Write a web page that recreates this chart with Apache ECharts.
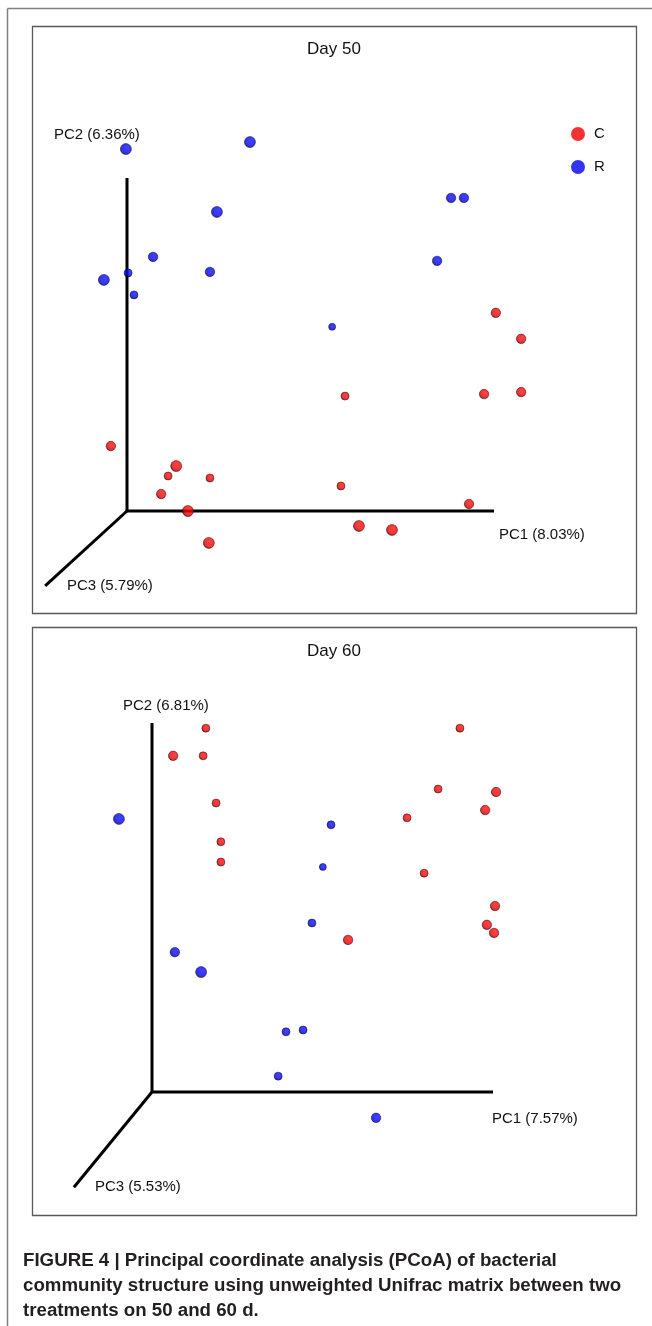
<!DOCTYPE html>
<html>
<head>
<meta charset="utf-8">
<script src="https://cdn.jsdelivr.net/npm/echarts@6/dist/echarts.min.js"></script>
<style>
html,body{margin:0;padding:0;background:#fff;}
#chart{width:652px;height:1326px;}
</style>
</head>
<body>
<div id="chart"></div>
<script>
// ---- DATA (projected PCoA coordinates: [PC1 screen, PC2 screen, depth class]) ----
const groups = ['C', 'R'];
const day50C = [[1.005,0.595,2],[1.074,0.517,2],[0.973,0.351,2],[1.074,0.357,2],[0.594,0.345,1],
  [0.583,0.075,1],[0.932,0.021,2],[0.632,-0.045,3],[0.722,-0.057,3],[-0.044,0.195,2],
  [0.134,0.135,3],[0.112,0.105,1],[0.226,0.099,1],[0.093,0.051,2],[0.166,0.000,3],[0.223,-0.096,3]];
const day50R = [[-0.003,1.087,3],[0.335,1.108,3],[0.245,0.898,3],[0.071,0.763,2],[0.003,0.715,1],
  [-0.063,0.694,3],[0.226,0.718,2],[0.019,0.649,1],[0.883,0.940,2],[0.918,0.940,2],
  [0.845,0.751,2],[0.559,0.553,0]];
const day60C = [[0.158,0.986,1],[0.062,0.911,2],[0.150,0.911,1],[0.188,0.783,1],[0.202,0.678,1],
  [0.202,0.623,1],[0.903,0.986,1],[0.839,0.821,1],[1.009,0.813,2],[0.977,0.764,2],
  [0.748,0.743,1],[0.798,0.593,1],[1.006,0.504,2],[0.982,0.453,2],[1.003,0.431,2],[0.575,0.412,2]];
const day60R = [[-0.097,0.740,3],[0.525,0.724,1],[0.501,0.610,0],[0.469,0.458,1],[0.067,0.379,2],
  [0.144,0.325,3],[0.393,0.163,1],[0.443,0.168,1],[0.370,0.043,1],[0.657,-0.070,2]];
// axis end points (PC1, PC2, PC3 directions) in the same projected units
const axes50 = [[1,0],[0,1],[-0.223,-0.225]];
const axes60 = [[1,0],[0,1],[-0.229,-0.258]];
const titles = ['Day 50', 'Day 60'];
const axisLabels50 = ['PC1 (8.03%)', 'PC2 (6.36%)', 'PC3 (5.79%)'];
const axisLabels60 = ['PC1 (7.57%)', 'PC2 (6.81%)', 'PC3 (5.53%)'];
const captionLines = [
  'FIGURE 4 | Principal coordinate analysis (PCoA) of bacterial',
  'community structure using unweighted Unifrac matrix between two',
  'treatments on 50 and 60 d.'
];

// ---- LAYOUT ----
const panels = [
  {left:32, top:26, w:605, h:588, ox:127, oy:511, ux:367, uy:333},
  {left:32, top:627, w:605, h:589, ox:152, oy:1092, ux:341, uy:369}
];
const sizeByDepth = [7, 8, 9.5, 11];
const FONT = '"Liberation Sans", Arial, Helvetica, sans-serif';

function sphere(light, mid, dark){
  return {type:'radial', x:0.6, y:0.38, r:0.62, colorStops:[
    {offset:0, color:light},{offset:0.72, color:mid},{offset:1, color:dark}]};
}
const styleC = {color: sphere('#ff1414','#f00000','#420000'), borderColor:'#2a0000', borderWidth:0.6};
const styleR = {color: sphere('#1414ff','#0000f0','#000042'), borderColor:'#00002a', borderWidth:0.6};

const grids = panels.map(p => ({left:p.left, top:p.top, width:p.w, height:p.h, show:false}));
const xAxes = panels.map((p,i) => ({gridIndex:i, type:'value', show:false,
  min:(p.left - p.ox)/p.ux, max:(p.left + p.w - p.ox)/p.ux}));
const yAxes = panels.map((p,i) => ({gridIndex:i, type:'value', show:false,
  min:(p.oy - p.top - p.h)/p.uy, max:(p.oy - p.top)/p.uy}));

function axisSeries(ends, gi){
  return ends.map(e => ({type:'line', xAxisIndex:gi, yAxisIndex:gi, data:[[0,0], e],
    symbol:'none', silent:true, z:1, animation:false,
    lineStyle:{color:'#000', width:3, cap:'butt'}}));
}
function pointSeries(name, data, gi, st){
  return {type:'scatter', name:name, xAxisIndex:gi, yAxisIndex:gi, data:data,
    symbol:'circle', symbolSize: v => sizeByDepth[v[2]], itemStyle:st, z:3, animation:false};
}

const series = [
  ...axisSeries(axes50, 0), ...axisSeries(axes60, 1),
  pointSeries('C', day50C, 0, styleC), pointSeries('R', day50R, 0, styleR),
  pointSeries('C', day60C, 1, styleC), pointSeries('R', day60R, 1, styleR)
];

function txt(text, x, y, size, align, weight, color){
  return {type:'text', silent:true, z:10, style:{text:text, x:x, y:y,
    font:(weight||'normal') + ' ' + size + 'px ' + FONT, fill:color||'#111',
    align:align||'left', verticalAlign:'middle'}};
}

const graphic = [
  {type:'line', silent:true, shape:{x1:7.5, y1:8.5, x2:652, y2:8.5}, style:{stroke:'#808080', lineWidth:1.5}},
  {type:'line', silent:true, shape:{x1:7.5, y1:8.5, x2:7.5, y2:1326}, style:{stroke:'#808080', lineWidth:1.5}},
  ...panels.map(p => ({type:'rect', silent:true, shape:{x:p.left+0.5, y:p.top+0.5, width:p.w-1, height:p.h-1},
    style:{fill:'none', stroke:'#5a5a5a', lineWidth:1.3}})),
  txt(titles[0], 334, 49, 17, 'center'),
  txt(axisLabels50[1], 54, 135, 15),
  txt(axisLabels50[0], 499, 535, 15),
  txt(axisLabels50[2], 67, 586, 15),
  txt(titles[1], 334, 651, 17, 'center'),
  txt(axisLabels60[1], 123, 706, 15),
  txt(axisLabels60[0], 492, 1119, 15),
  txt(axisLabels60[2], 95, 1187, 15),
  ...captionLines.map((l, i) => txt(l, 23, 1261 + i*25, 18.7, 'left', 'bold', '#231f20'))
];

const chart = echarts.init(document.getElementById('chart'), null, {renderer:'canvas'});
chart.setOption({
  backgroundColor:'#fff',
  animation:false,
  grid:grids, xAxis:xAxes, yAxis:yAxes,
  legend:{orient:'vertical', left:566, top:121.5, itemWidth:22, itemHeight:14, itemGap:18,
    icon:'circle', selectedMode:false,
    textStyle:{fontSize:15, color:'#111', fontFamily:FONT},
    data:[{name:groups[0], itemStyle:{color:'#f00000', borderWidth:0}},
          {name:groups[1], itemStyle:{color:'#0000f0', borderWidth:0}}]},
  series:series,
  graphic:graphic
});
</script>
</body>
</html>
